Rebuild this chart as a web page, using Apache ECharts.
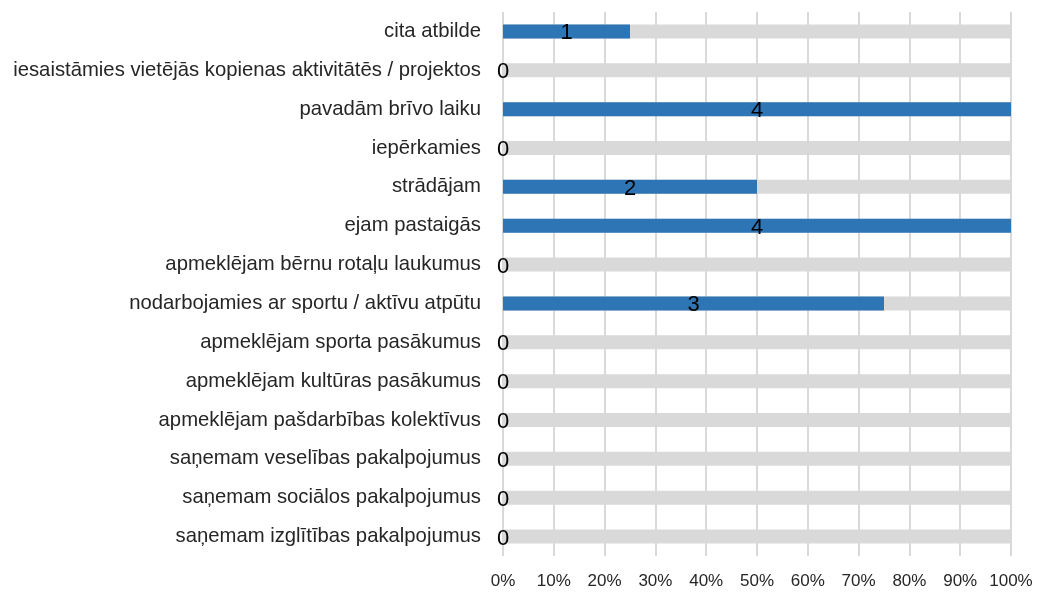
<!DOCTYPE html>
<html>
<head>
<meta charset="utf-8">
<script src="https://cdn.jsdelivr.net/npm/echarts@6/dist/echarts.min.js"></script>
<style>html,body{margin:0;padding:0;background:#fff}#c{width:1038px;height:592px}</style>
</head>
<body>
<div id="c"></div>
<script>
var categories = [
  "cita atbilde",
  "iesaistāmies vietējās kopienas aktivitātēs / projektos",
  "pavadām brīvo laiku",
  "iepērkamies",
  "strādājam",
  "ejam pastaigās",
  "apmeklējam bērnu rotaļu laukumus",
  "nodarbojamies ar sportu / aktīvu atpūtu",
  "apmeklējam sporta pasākumus",
  "apmeklējam kultūras pasākumus",
  "apmeklējam pašdarbības kolektīvus",
  "saņemam veselības pakalpojumus",
  "saņemam sociālos pakalpojumus",
  "saņemam izglītības pakalpojumus"
];
var counts = [1, 0, 4, 0, 2, 4, 0, 3, 0, 0, 0, 0, 0, 0];
var percents = [25, 0, 100, 0, 50, 100, 0, 75, 0, 0, 0, 0, 0, 0];
var backgroundPercents = [100, 100, 100, 100, 100, 100, 100, 100, 100, 100, 100, 100, 100, 100];
var xTicks = [0, 10, 20, 30, 40, 50, 60, 70, 80, 90, 100];

var chart = echarts.init(document.getElementById('c'));
chart.setOption({
  animation: false,
  textStyle: { fontFamily: 'Liberation Sans, Arial, sans-serif' },
  grid: { left: 503, right: 27, top: 12, bottom: 36, containLabel: false, outerBoundsMode: 'none' },
  xAxis: {
    type: 'value', min: xTicks[0], max: xTicks[xTicks.length - 1], interval: 10,
    axisLine: { show: false }, axisTick: { show: false },
    splitLine: { show: true, lineStyle: { color: '#d9d9d9', width: 2 } },
    axisLabel: { formatter: '{value}%', color: '#262626', fontSize: 17, margin: 17, fontFamily: 'Liberation Sans, Arial, sans-serif' }
  },
  yAxis: {
    type: 'category', data: categories, inverse: true,
    axisLine: { show: false }, axisTick: { show: false },
    axisLabel: { color: '#262626', fontSize: 20.3, margin: 22, fontFamily: 'Liberation Sans, Arial, sans-serif' }
  },
  series: [
    {
      type: 'bar', data: backgroundPercents, barWidth: 14, silent: true,
      itemStyle: { color: '#d9d9d9' }, z: 1
    },
    {
      type: 'bar', data: percents, barWidth: 14, barGap: '-100%',
      itemStyle: { color: '#2e75b6' }, z: 2,
      label: {
        show: true, position: 'inside', color: '#000', fontSize: 22, offset: [0, 2],
        fontFamily: 'Liberation Sans, Arial, sans-serif',
        formatter: function (p) { return String(counts[p.dataIndex]); }
      }
    }
  ]
});
</script>
</body>
</html>
